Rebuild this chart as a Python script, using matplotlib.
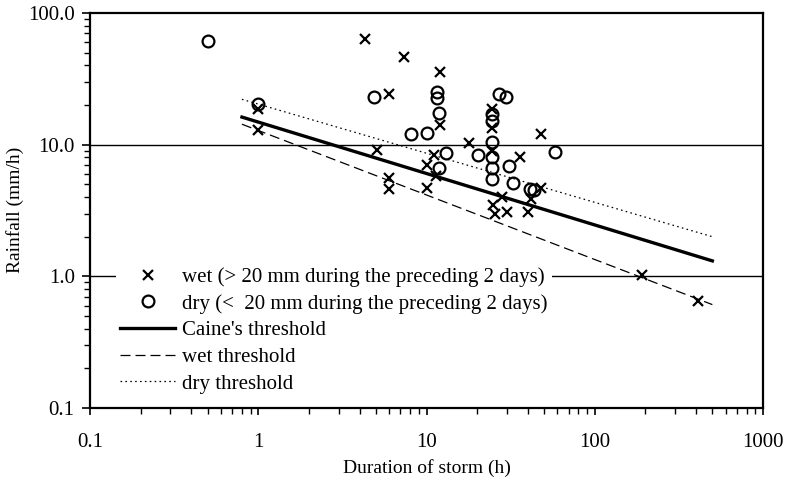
import matplotlib
matplotlib.use("Agg")
import matplotlib.pyplot as plt
from matplotlib.ticker import FixedLocator, FixedFormatter, LogLocator, NullFormatter

# ---- data ----
wet_duration = [1.0, 1.0, 4.3, 5.1, 6.0, 6.0, 6.0, 7.4, 10.1, 10.1, 11.1, 11.4, 12.0, 12.0,
                18.0, 24.5, 24.5, 24.5, 25.0, 25.5, 28.0, 30.0, 36.0, 40.0, 42.0, 48.0, 48.0,
                190.0, 410.0]
wet_rainfall = [13.0, 18.5, 63.0, 9.1, 24.3, 5.6, 4.6, 46.0, 7.0, 4.7, 8.3, 5.8, 35.5, 14.2,
                10.3, 18.5, 13.5, 8.9, 3.5, 3.0, 4.0, 3.1, 8.1, 3.1, 3.9, 12.1, 4.7,
                1.03, 0.65]

dry_duration = [0.5, 1.0, 4.9, 8.1, 10.1, 11.5, 11.5, 11.9, 11.9, 13.1, 20.2, 24.5, 24.5,
                24.5, 24.5, 24.5, 24.5, 27.0, 29.6, 31.0, 32.6, 41.5, 43.5, 58.0]
dry_rainfall = [61.0, 20.5, 23.0, 12.1, 12.3, 25.0, 22.5, 17.4, 6.6, 8.7, 8.4, 17.0, 15.2,
                10.5, 8.1, 6.7, 5.5, 24.3, 23.0, 6.9, 5.1, 4.6, 4.5, 8.8]

threshold_duration = [0.8, 500.0]
caine_rainfall = [16.2, 1.31]
wet_threshold_rainfall = [14.3, 0.61]
dry_threshold_rainfall = [22.1, 2.0]

x_ticks = [0.1, 1, 10, 100, 1000]
x_tick_labels = ["0.1", "1", "10", "100", "1000"]
y_ticks = [0.1, 1, 10, 100]
y_tick_labels = ["0.1", "1.0", "10.0", "100.0"]

legend_labels = ["wet (> 20 mm during the preceding 2 days)",
                 "dry (<  20 mm during the preceding 2 days)",
                 "Caine's threshold", "wet threshold", "dry threshold"]

# ---- figure ----
plt.rcParams['font.family'] = ['Liberation Serif', 'DejaVu Serif']
W, H = 788, 483
fig = plt.figure(figsize=(W / 100, H / 100), dpi=100)
ax = fig.add_axes([90 / W, 1 - 408 / H, (763 - 90) / W, (408 - 13) / H])

ax.set_xscale('log')
ax.set_yscale('log')
ax.set_xlim(0.1, 1000)
ax.set_ylim(0.1, 100)

# horizontal gridlines
for yv in [1, 10]:
    ax.axhline(yv, color='black', lw=1.0, zorder=1)

h_wet = ax.plot(wet_duration, wet_rainfall, linestyle='none', marker='x', ms=7.5,
                mew=1.6, color='black', zorder=4)[0]
h_dry = ax.plot(dry_duration, dry_rainfall, linestyle='none', marker='o', ms=8.5,
                mew=1.6, mfc='none', mec='black', zorder=4)[0]
h_caine = ax.plot(threshold_duration, caine_rainfall, color='black', lw=2.4, zorder=3)[0]
h_wett = ax.plot(threshold_duration, wet_threshold_rainfall, color='black', lw=0.9,
                 dashes=(8, 4), zorder=3)[0]
h_dryt = ax.plot(threshold_duration, dry_threshold_rainfall, color='black', lw=0.9,
                 dashes=(1.3, 2.6), zorder=3)[0]

# ticks
ax.xaxis.set_major_locator(FixedLocator(x_ticks))
ax.xaxis.set_major_formatter(FixedFormatter(x_tick_labels))
ax.xaxis.set_minor_locator(LogLocator(base=10, subs=range(2, 10), numticks=20))
ax.xaxis.set_minor_formatter(NullFormatter())
ax.yaxis.set_major_locator(FixedLocator(y_ticks))
ax.yaxis.set_major_formatter(FixedFormatter(y_tick_labels))
ax.yaxis.set_minor_locator(LogLocator(base=10, subs=range(2, 10), numticks=20))
ax.yaxis.set_minor_formatter(NullFormatter())

ax.tick_params(axis='x', which='major', direction='out', length=5, width=1.2,
               labelsize=15, pad=13)
ax.tick_params(axis='x', which='minor', direction='out', length=4, width=1.0)
ax.tick_params(axis='y', which='major', direction='out', length=6, width=1.2,
               labelsize=15, pad=5)
ax.tick_params(axis='y', which='minor', direction='out', length=4, width=1.0)
ax.tick_params(top=False, right=False, which='both')

for s in ax.spines.values():
    s.set_linewidth(1.6)
    s.set_color('black')

ax.set_xlabel("Duration of storm (h)", fontsize=14, labelpad=5)
ax.set_ylabel("Rainfall (mm/h)", fontsize=14)
ax.yaxis.set_label_coords(24 / W, 1 - 210 / H, transform=fig.transFigure)

leg = ax.legend([h_wet, h_dry, h_caine, h_wett, h_dryt], legend_labels,
                loc='upper left', bbox_to_anchor=(116 / W, 1 - 263 / H),
                bbox_transform=fig.transFigure, fontsize=15, frameon=True,
                fancybox=False, framealpha=1, facecolor='white', edgecolor='none',
                handlelength=2.64, handletextpad=0.33, labelspacing=0.34,
                borderpad=0.2, borderaxespad=0, numpoints=1)
leg.set_zorder(5)

fig.savefig("out.png", dpi=100)
